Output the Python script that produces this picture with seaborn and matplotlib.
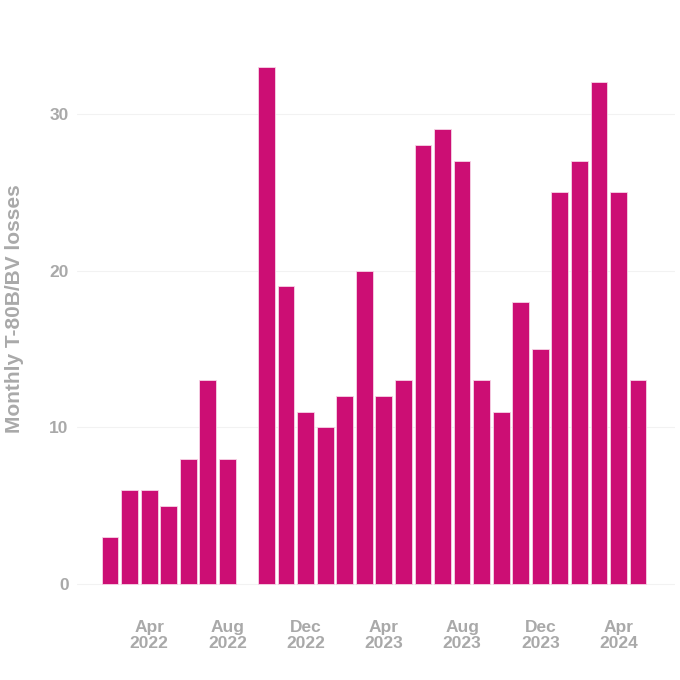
import matplotlib
matplotlib.use("Agg")
import matplotlib.pyplot as plt
import seaborn as sns
import pandas as pd
import numpy as np

# Monthly losses, Feb 2022 - May 2024 (Sep 2022 has no bar)
months = pd.date_range("2022-02-01", "2024-05-01", freq="MS")
losses = [3, 6, 6, 5, 8, 13, 8, np.nan, 33, 19, 11, 10, 12, 20, 12, 13,
          28, 29, 27, 13, 11, 18, 15, 25, 27, 32, 25, 13]
tick_months = ["2022-04", "2022-08", "2022-12", "2023-04", "2023-08", "2023-12", "2024-04"]

df = pd.DataFrame({"month": months.strftime("%Y-%m"), "losses": losses})

sns.set_theme(style="white")
plt.rcParams['font.family'] = ['Liberation Sans', 'DejaVu Sans']

grey = "#A9A9A9"
fig, ax = plt.subplots(figsize=(6.8, 6.8), dpi=100)
fig.subplots_adjust(left=0.113, right=0.993, top=0.94, bottom=0.103)

sns.barplot(data=df, x="month", y="losses", color="#CC0E74", saturation=1,
            width=0.86, edgecolor="#F6D4E6", linewidth=0.6, ax=ax)

ax.set_xlim(-1.7, 28.9)
ax.set_ylim(-1.65, 34.65)
ax.set_yticks([0, 10, 20, 30])
ax.yaxis.grid(True, color="#F2F2F2", linewidth=0.8)
ax.set_axisbelow(True)

pos = [list(df["month"]).index(m) for m in tick_months]
labels = [pd.Timestamp(m + "-01").strftime("%b\n%Y") for m in tick_months]
ax.set_xticks(pos)
ax.set_xticklabels(labels, fontsize=12.5, fontweight="bold", color=grey, linespacing=1.1)
ax.tick_params(axis="y", labelsize=12.5, labelcolor=grey, length=0, pad=6)
ax.tick_params(axis="x", length=0, pad=7)
for t in ax.get_yticklabels():
    t.set_fontweight("bold")

ax.set_xlabel("")
ax.set_ylabel("Monthly T-80B/BV losses", fontsize=15, fontweight="bold", color=grey)
ax.yaxis.set_label_coords(-0.088, 0.53)
sns.despine(ax=ax, left=True, bottom=True)

fig.savefig("out.png", dpi=100, facecolor="white")
